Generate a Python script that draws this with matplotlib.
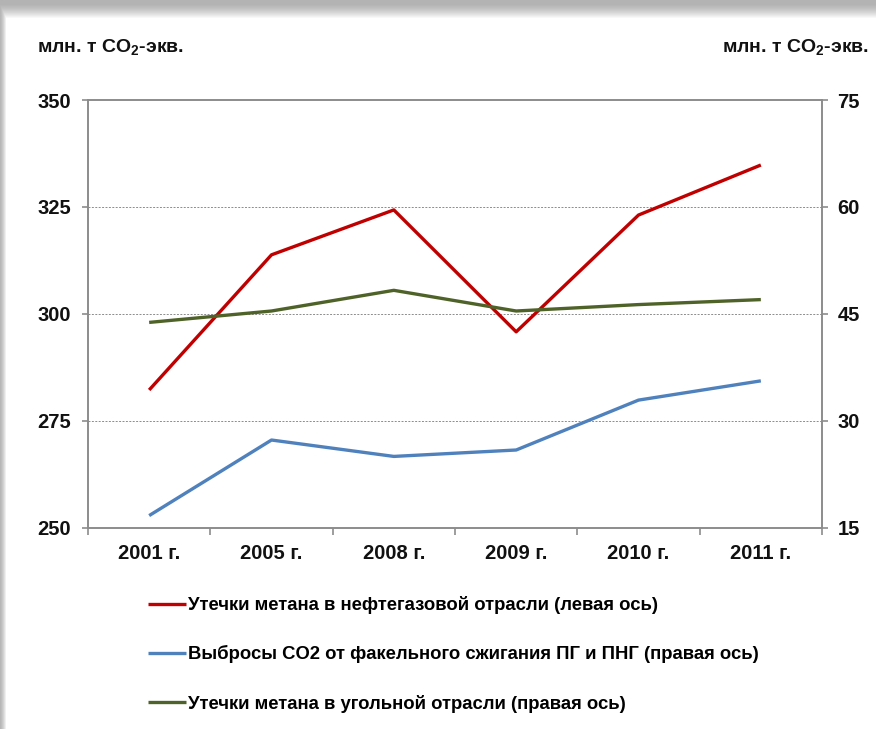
import matplotlib.pyplot as plt
import numpy as np

plt.rcParams['font.family'] = ['Liberation Sans', 'DejaVu Sans']

years = ["2001 г.", "2005 г.", "2008 г.", "2009 г.", "2010 г.", "2011 г."]
oil_gas_methane = [282.2, 313.8, 324.3, 295.8, 323.1, 334.8]   # left axis
flaring_co2 = [16.7, 27.3, 25.0, 25.9, 32.9, 35.6]             # right axis
coal_methane = [43.8, 45.4, 48.3, 45.4, 46.3, 47.0]            # right axis

labels = ["Утечки метана в нефтегазовой отрасли (левая ось)",
          "Выбросы CO2 от факельного сжигания ПГ и ПНГ (правая ось)",
          "Утечки метана в угольной отрасли (правая ось)"]

W, H = 876, 729
fig = plt.figure(figsize=(W / 100, H / 100), dpi=100)

# soft grey shadow along the top and left edges of the card
bg = fig.add_axes([0, 0, 1, 1], zorder=-5)
yy, xx = np.mgrid[0:H, 0:W]
shade = np.clip(np.minimum((yy - 3) / 15.0, (xx + 1) / 7.0), 0, 1)
img = 0.70 + 0.30 * shade ** 1.5
bg.imshow(img, cmap='gray', vmin=0, vmax=1, aspect='auto', interpolation='bilinear')
bg.axis('off')

ax = fig.add_axes([88 / W, 1 - 527.7 / H, (822 - 88) / W, (527.7 - 100) / H])
ax2 = ax.twinx()

x = np.arange(len(years))
grid_c = '#8c8c8c'

l1, = ax.plot(x, oil_gas_methane, color='#C00000', lw=2.4, solid_capstyle='butt')
l2, = ax2.plot(x, flaring_co2, color='#4F81BD', lw=2.4, solid_capstyle='butt')
l3, = ax2.plot(x, coal_methane, color='#4F6228', lw=2.4, solid_capstyle='butt')

ax.set_xlim(-0.5, len(years) - 0.5)
ax.set_ylim(250, 350)
ax2.set_ylim(15, 75)
ax.set_yticks([250, 275, 300, 325, 350])
ax2.set_yticks([15, 30, 45, 60, 75])

for y in [275, 300, 325]:
    ax.axhline(y, color=grid_c, lw=0.7, ls=(0, (2, 1.5)), zorder=0)

for a in (ax, ax2):
    for s in a.spines.values():
        s.set_color(grid_c)
        s.set_linewidth(1.2)
    a.set_facecolor('none')

ax.set_xticks(x)
ax.set_xticklabels(years)
ax.set_xticks(np.arange(-0.5, len(years)), minor=True)
ax.tick_params(axis='x', which='major', length=0, pad=11.5)
ax.tick_params(axis='x', which='minor', length=5, width=1.2, color=grid_c, direction='out')
ax.tick_params(axis='y', length=4, width=1.2, color=grid_c, direction='out', pad=8)
ax2.tick_params(axis='y', length=4, width=1.2, color=grid_c, direction='out', pad=7)

for lab in ax.get_xticklabels() + ax.get_yticklabels() + ax2.get_yticklabels():
    lab.set_fontsize(14.5)
    lab.set_fontweight('bold')
    lab.set_color('#111111')

for hx in (37, 722):
    fig.text(hx / W, 1 - 48 / H, r"млн. т CO$_\mathregular{2}$-экв.", fontsize=14, fontweight='bold',
             ha='left', va='center', color='#111111')

fig.legend([l1, l2, l3], labels, loc='upper left', bbox_to_anchor=(148 / W, 1 - 596 / H),
           frameon=False, prop={'weight': 'bold', 'size': 13.3},
           handlelength=2.05, handletextpad=0.1,
           labelspacing=1.7, borderaxespad=0, borderpad=0)

fig.savefig('out.png', dpi=100)
